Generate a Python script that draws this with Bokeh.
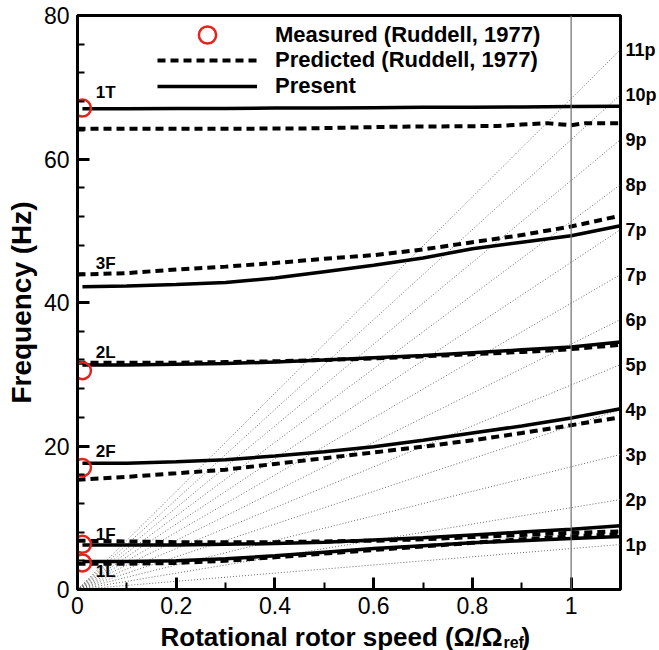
import numpy as np
from bokeh.plotting import figure
from bokeh.layouts import column
from bokeh.models import (Range1d, FixedTicker, CustomJSTickFormatter, Span, Label,
                          Legend, LegendItem, LinearAxis)
from bokeh.core.properties import value
from bokeh.embed import file_html
from bokeh.resources import INLINE

# ---------------- data ----------------
speed_present = [0.01, 0.1, 0.2, 0.3, 0.4, 0.5, 0.6, 0.7, 0.8, 0.9, 1.0, 1.1]
speed_pred = [0.0, 0.1, 0.2, 0.3, 0.4, 0.5, 0.6, 0.7, 0.8, 0.9, 1.0, 1.1]

present_1T = [67.0, 67.0, 67.05, 67.05, 67.1, 67.1, 67.15, 67.2, 67.2, 67.25, 67.3, 67.35]
present_3F = [42.2, 42.3, 42.5, 42.8, 43.4, 44.3, 45.2, 46.2, 47.5, 48.4, 49.3, 50.7]
present_2L = [31.3, 31.3, 31.4, 31.5, 31.7, 32.0, 32.3, 32.6, 33.0, 33.4, 33.8, 34.5]
present_2F = [17.6, 17.6, 17.8, 18.1, 18.6, 19.2, 19.9, 20.8, 21.8, 22.8, 23.9, 25.2]
present_1F = [6.2, 6.2, 6.2, 6.3, 6.4, 6.6, 6.9, 7.2, 7.6, 8.0, 8.4, 8.9]
present_1L = [3.9, 3.9, 4.0, 4.3, 4.7, 5.2, 5.7, 6.1, 6.5, 6.8, 7.1, 7.4]

speed_pred_1T = [0.0, 0.2, 0.45, 0.65, 0.85, 0.9, 0.95, 1.0, 1.03, 1.1]
pred_1T = [64.2, 64.2, 64.25, 64.5, 64.6, 64.8, 65.0, 64.7, 65.0, 65.0]
pred_3F = [43.9, 44.1, 44.6, 45.0, 45.5, 46.1, 46.6, 47.4, 48.4, 49.4, 50.6, 52.1]
pred_2L = [31.6, 31.6, 31.6, 31.7, 31.8, 32.0, 32.2, 32.5, 32.8, 33.1, 33.5, 34.1]
pred_2F = [15.3, 15.7, 16.2, 16.7, 17.5, 18.3, 19.1, 19.9, 20.8, 21.8, 22.9, 24.0]
pred_1F = [6.8, 6.7, 6.6, 6.6, 6.6, 6.7, 6.8, 7.0, 7.3, 7.6, 7.9, 8.1]
pred_1L = [3.6, 3.6, 3.7, 4.0, 4.5, 5.0, 5.5, 6.0, 6.5, 7.0, 7.4, 7.7]

measured_speed = [0.01, 0.01, 0.01, 0.01, 0.01]
measured_freq = [67.1, 30.5, 17.0, 6.3, 3.7]

mode_names = ["1T", "3F", "2L", "2F", "1F", "1L"]
mode_label_y = [69.2, 45.4, 33.0, 19.2, 7.6, 2.5]

harmonics = [1, 2, 3, 4, 5, 6, 7, 8, 9, 10, 11, 12]
harmonic_labels = ["1p", "2p", "3p", "4p", "5p", "6p", "7p", "7p", "8p", "9p", "10p", "11p"]
omega_ref_hz = 5.7

x_ticks = [0.0, 0.2, 0.4, 0.6, 0.8, 1.0]
x_minor = [0.1, 0.3, 0.5, 0.7, 0.9, 1.1]
y_ticks = [0, 20, 40, 60, 80]
y_minor = [4, 8, 12, 16, 24, 28, 32, 36, 44, 48, 52, 56, 64, 68, 72, 76]

x_label_main = "Rotational rotor speed (\u03a9/\u03a9"
x_label_sub = "ref"
x_label_close = ")"

X_MAX = 1.1
FONT = "Liberation Sans"

# ---------------- main figure ----------------
p = figure(width=659, height=622, output_backend="svg", toolbar_location=None,
           x_range=Range1d(0, X_MAX), y_range=Range1d(0, 80), title=None,
           min_border_left=77, min_border_right=38, min_border_top=15, min_border_bottom=33)
p.background_fill_color = "white"
p.border_fill_color = "white"
p.xgrid.visible = False
p.ygrid.visible = False
p.outline_line_color = "black"
p.outline_line_width = 3
p.outline_line_alpha = 1

# per-rev fan lines
xs_fan = [[0, X_MAX] for n in harmonics]
ys_fan = [[0, n * omega_ref_hz * X_MAX] for n in harmonics]
p.multi_line(xs_fan, ys_fan, line_color="#6a6a6a", line_width=1, line_dash="1 2")

p.add_layout(Span(location=1.0, dimension="height", line_color="#6e6e6e", line_width=1.2))

DASH = dict(line_color="black", line_width=4, line_dash="8 5")
SOLID = dict(line_color="black", line_width=3.5)

pred_r = p.line(speed_pred_1T, pred_1T, **DASH)
for arr in [pred_3F, pred_2L, pred_2F, pred_1F, pred_1L]:
    p.line(speed_pred, arr, **DASH)

pres_r = None
for arr in [present_1T, present_3F, present_2L, present_2F, present_1F, present_1L]:
    r = p.line(speed_present, arr, **SOLID)
    if pres_r is None:
        pres_r = r

meas_r = p.scatter(measured_speed, measured_freq, marker="circle", size=17,
                   fill_color=None, line_color="#e3231c", line_width=2.5)

# mode labels
for name, yv in zip(mode_names, mode_label_y):
    p.add_layout(Label(x=0.037, y=yv, text=name, text_font=FONT, text_font_size="17px",
                       text_font_style="bold", text_baseline="alphabetic", text_color="black"))

# axes
p.xaxis.ticker = FixedTicker(ticks=x_ticks, minor_ticks=x_minor)
p.yaxis.ticker = FixedTicker(ticks=y_ticks, minor_ticks=y_minor)
p.xaxis.formatter = CustomJSTickFormatter(code="""
    if (Math.abs(tick) < 1e-9) return '0';
    if (Math.abs(tick - 1) < 1e-9) return '1';
    return tick.toFixed(1);
""")
for ax in [p.xaxis[0], p.yaxis[0]]:
    ax.axis_line_width = 3
    ax.axis_line_color = "black"
    ax.major_tick_in = 12
    ax.major_tick_out = 0
    ax.minor_tick_in = 7
    ax.minor_tick_out = 0
    ax.major_tick_line_width = 3
    ax.minor_tick_line_width = 2
    ax.major_tick_line_color = "black"
    ax.minor_tick_line_color = "black"
    ax.major_label_text_font = FONT
    ax.major_label_text_font_size = "23px"
    ax.major_label_text_color = "black"

p.xaxis.major_label_standoff = 7
p.yaxis.major_label_standoff = 8
p.xaxis.axis_label = None
p.yaxis.axis_label = "Frequency (Hz)"
p.yaxis.axis_label_text_font = FONT
p.yaxis.axis_label_text_font_size = "28px"
p.yaxis.axis_label_text_font_style = "bold"
p.yaxis.axis_label_text_color = "black"
p.yaxis.axis_label_standoff = 4

# right axis carrying the per-rev labels at the fan-line ends
rev_axis = LinearAxis(
    ticker=FixedTicker(ticks=[n * omega_ref_hz * X_MAX for n in harmonics], minor_ticks=[]),
    formatter=CustomJSTickFormatter(args=dict(labels=harmonic_labels),
                                    code="return labels[index];"),
    axis_line_color=None, major_tick_line_color=None, minor_tick_line_color=None,
    major_tick_in=0, major_tick_out=0, minor_tick_in=0, minor_tick_out=0,
    major_label_standoff=5, major_label_text_font=FONT,
    major_label_text_font_size="18px", major_label_text_font_style="bold",
    major_label_text_color="black")
p.add_layout(rev_axis, "right")

# legends
common = dict(orientation="vertical", padding=0, margin=0, spacing=0,
              border_line_alpha=0, background_fill_alpha=0,
              label_text_font=FONT, label_text_font_size="22px",
              label_text_font_style="bold", label_text_color="black",
              glyph_width=100, label_standoff=18)
leg1 = Legend(items=[LegendItem(label="Measured (Ruddell, 1977)", renderers=[meas_r])],
              location=(80, 589 - 56), glyph_height=43, label_height=43, **common)
leg2 = Legend(items=[LegendItem(label="Predicted (Ruddell, 1977)", renderers=[pred_r]),
                     LegendItem(label="Present", renderers=[pres_r])],
              location=(80, 589 - 99), glyph_height=26, label_height=26, **common)
p.add_layout(leg1, "center")
p.add_layout(leg2, "center")

# ---------------- x-axis title strip (with subscript) ----------------
s = figure(width=659, height=28, output_backend="svg", toolbar_location=None,
           x_range=Range1d(0, 659), y_range=Range1d(0, 28), title=None,
           x_axis_type=None, y_axis_type=None,
           min_border_left=0, min_border_right=0, min_border_top=0, min_border_bottom=0)
s.xgrid.visible = False
s.ygrid.visible = False
s.outline_line_color = None
s.background_fill_color = "white"
s.border_fill_color = "white"
anchor = 516
s.text(x=[anchor], y=[14], text=[x_label_main], text_font=value(FONT),
       text_font_size="26px", text_font_style="bold", text_align="right",
       text_baseline="alphabetic", text_color="black")
s.text(x=[anchor + 1], y=[8], text=[x_label_sub], text_font=value(FONT),
       text_font_size="16px", text_font_style="bold", text_align="left",
       text_baseline="alphabetic", text_color="black")
s.text(x=[anchor + 23], y=[14], text=[x_label_close], text_font=value(FONT),
       text_font_size="26px", text_font_style="bold", text_align="left",
       text_baseline="alphabetic", text_color="black")

layout = column(p, s, spacing=0)
open("out.html", "w").write(file_html(layout, INLINE))
